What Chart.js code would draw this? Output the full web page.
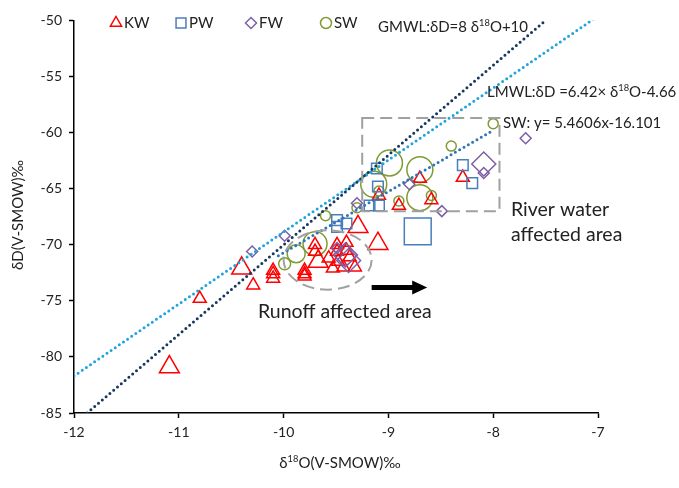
<!DOCTYPE html>
<html>
<head>
<meta charset="utf-8">
<script src="https://cdn.jsdelivr.net/npm/chart.js@4.4.1/dist/chart.umd.min.js"></script>
<style>
  html, body { margin: 0; padding: 0; background: #fff; }
  #wrap { width: 679px; height: 488px; }
</style>
</head>
<body>
<div id="wrap"><canvas id="grafica" width="679" height="488"></canvas></div>
<script>
// δ18O (x) y δD (y) por tipo de agua
const kwX = [-11.09, -10.80, -10.40, -10.29, -10.10, -10.10, -10.10, -9.80, -9.80, -9.80,
             -9.70, -9.70, -9.67, -9.57, -9.53, -9.49, -9.49, -9.48, -9.43, -9.40,
             -9.40, -9.37, -9.32, -9.29, -9.10, -9.09, -8.90, -8.70, -8.59, -8.29];
const kwY = [-80.9, -74.8, -72.1, -73.6, -72.3, -72.6, -73.0, -72.3, -72.6, -72.8,
             -70.0, -70.6, -71.5, -71.2, -72.1, -70.0, -70.6, -71.5, -72.0, -69.8,
             -70.5, -71.1, -72.0, -68.4, -69.9, -65.6, -66.5, -64.1, -66.0, -64.0];
const kwGrandes = [0, 2, 12, 23, 24];

const pwX = [-9.49, -9.40, -9.49, -9.18, -9.10, -9.09, -9.11, -8.29, -8.20, -8.72];
const pwY = [-67.8, -68.1, -68.4, -66.5, -64.8, -66.5, -63.2, -62.9, -64.5, -68.8];
const pwGrandes = [9];

const fwX = [-10.30, -9.99, -9.49, -9.41, -9.38, -9.30, -8.80, -8.49, -8.09, -8.09, -7.69];
const fwY = [-70.6, -69.2, -70.3, -70.9, -71.4, -66.3, -64.6, -67.0, -62.8, -63.6, -60.5];
const fwGrandes = [3, 4, 8];

const swX = [-9.99, -9.88, -9.70, -9.60, -9.30, -9.14, -9.09, -8.99, -8.90, -8.70, -8.70, -8.59, -8.40, -8.00];
const swY = [-71.7, -70.8, -69.9, -67.4, -66.7, -64.6, -65.2, -62.7, -66.1, -63.3, -65.8, -65.6, -61.2, -59.2];
const swRadio = [6, 9, 12, 5, 5, 13, 5, 13, 5, 13, 13, 5, 5, 5];

// rectas: pendiente, ordenada, rango de x
const gmwl = { m: 8, b: 10, x: [-11.875, -7.5] };
const lmwl = { m: 6.42, b: -4.66, x: [-12, -7] };
const swReg = { m: 5.4606, b: -16.101, x: [-10.05, -8.0] };

const xTicks = [-12, -11, -10, -9, -8, -7];
const yTicks = [-85, -80, -75, -70, -65, -60, -55, -50];

const FUENTE = 'Lato, "Open Sans", sans-serif';
const C_KW = '#FF0000', C_PW = '#4A7EBB', C_FW = '#7E5FA6', C_SW = '#7F9B34';

function puntos(xs, ys) {
  return xs.map((x, i) => ({ x: x, y: ys[i] }));
}

function recta(r) {
  return r.x.map(x => ({ x: x, y: r.m * x + r.b }));
}

function serieRecta(r, color) {
  return {
    data: recta(r),
    showLine: true,
    borderColor: color,
    borderWidth: 3,
    borderDash: [0, 5],
    borderCapStyle: 'round',
    pointRadius: 0,
    fill: false
  };
}

function serieMarcas(etiqueta, xs, ys, estilo, color, radio) {
  return {
    label: etiqueta,
    data: puntos(xs, ys),
    pointStyle: estilo,
    borderColor: color,
    backgroundColor: 'rgba(0,0,0,0)',
    pointBorderWidth: 1.5,
    pointRadius: radio,
    pointHoverRadius: radio
  };
}

// texto con superíndices: [texto, esSup]
function textoRuns(ctx, runs, x, y, size, align) {
  const supSize = size * 0.62;
  let total = 0;
  runs.forEach(r => {
    ctx.font = (r[1] ? supSize : size) + 'px ' + FUENTE;
    total += ctx.measureText(r[0]).width;
  });
  let cx = align === 'right' ? x - total : (align === 'center' ? x - total / 2 : x);
  ctx.textAlign = 'left';
  ctx.textBaseline = 'alphabetic';
  runs.forEach(r => {
    ctx.font = (r[1] ? supSize : size) + 'px ' + FUENTE;
    ctx.fillText(r[0], cx, r[1] ? y - size * 0.4 : y);
    cx += ctx.measureText(r[0]).width;
  });
}

function marca(ctx, estilo, x, y, r, color) {
  ctx.save();
  ctx.strokeStyle = color;
  ctx.lineWidth = 1.5;
  ctx.beginPath();
  if (estilo === 'triangle') {
    ctx.moveTo(x, y - r);
    ctx.lineTo(x + r * 0.866, y + r * 0.5);
    ctx.lineTo(x - r * 0.866, y + r * 0.5);
    ctx.closePath();
  } else if (estilo === 'rect') {
    ctx.rect(x - r * 0.707, y - r * 0.707, r * 1.414, r * 1.414);
  } else if (estilo === 'rectRot') {
    ctx.moveTo(x - r, y); ctx.lineTo(x, y - r); ctx.lineTo(x + r, y); ctx.lineTo(x, y + r);
    ctx.closePath();
  } else {
    ctx.arc(x, y, r, 0, Math.PI * 2);
  }
  ctx.stroke();
  ctx.restore();
}

const anotaciones = {
  id: 'anotaciones',
  afterDatasetsDraw(chart) {
    const ctx = chart.ctx;
    const sx = chart.scales.x, sy = chart.scales.y;

    ctx.save();
    // zona de agua de río
    ctx.strokeStyle = '#A0A0A0';
    ctx.lineWidth = 2;
    ctx.setLineDash([12, 6]);
    const bx1 = sx.getPixelForValue(-9.25), bx2 = sx.getPixelForValue(-7.94);
    const by1 = sy.getPixelForValue(-58.7), by2 = sy.getPixelForValue(-67.0);
    ctx.strokeRect(bx1, by1, bx2 - bx1, by2 - by1);

    // zona de escorrentía
    const ex1 = sx.getPixelForValue(-10.0), ex2 = sx.getPixelForValue(-9.16);
    const ey1 = sy.getPixelForValue(-68.7), ey2 = sy.getPixelForValue(-74.0);
    ctx.beginPath();
    ctx.ellipse((ex1 + ex2) / 2, (ey1 + ey2) / 2, (ex2 - ex1) / 2, (ey2 - ey1) / 2, 0, 0, Math.PI * 2);
    ctx.stroke();
    ctx.setLineDash([]);

    // flecha
    const ax1 = sx.getPixelForValue(-9.16), ax2 = sx.getPixelForValue(-8.63);
    const ay = sy.getPixelForValue(-73.8);
    ctx.strokeStyle = '#000';
    ctx.fillStyle = '#000';
    ctx.lineWidth = 5;
    ctx.beginPath();
    ctx.moveTo(ax1, ay);
    ctx.lineTo(ax2 - 12, ay);
    ctx.stroke();
    ctx.beginPath();
    ctx.moveTo(ax2, ay);
    ctx.lineTo(ax2 - 15, ay - 7);
    ctx.lineTo(ax2 - 15, ay + 7);
    ctx.closePath();
    ctx.fill();
    ctx.restore();
  },
  afterDraw(chart) {
    const ctx = chart.ctx;
    ctx.save();
    ctx.fillStyle = '#222';

    // leyenda
    const ley = [
      ['triangle', C_KW, 'KW', 116, 6.5],
      ['rect', C_PW, 'PW', 181, 7],
      ['rectRot', C_FW, 'FW', 251, 5.5],
      ['circle', C_SW, 'SW', 326, 5.5]
    ];
    ley.forEach(l => {
      marca(ctx, l[0], l[3], 23, l[4], l[1]);
      textoRuns(ctx, [[l[2], false]], l[3] + 8, 28, 15, 'left');
    });

    // ecuaciones
    textoRuns(ctx, [['GMWL:δD=8 δ', false], ['18', true], ['O+10', false]], 528, 32, 15, 'right');
    textoRuns(ctx, [['LMWL:δD =6.42× δ', false], ['18', true], ['O-4.66', false]], 487, 97, 15, 'left');
    textoRuns(ctx, [['SW: y= 5.4606x-16.101', false]], 503, 128, 15, 'left');

    // zonas
    textoRuns(ctx, [['River water', false]], 511, 216, 19.5, 'left');
    textoRuns(ctx, [['affected area', false]], 511, 241, 19.5, 'left');
    textoRuns(ctx, [['Runoff affected area', false]], 258, 318, 19.5, 'left');

    // títulos de ejes
    textoRuns(ctx, [['δ', false], ['18', true], ['O(V-SMOW)‰', false]], 340, 468, 15, 'center');
    ctx.translate(23, 215);
    ctx.rotate(-Math.PI / 2);
    textoRuns(ctx, [['δD(V-SMOW)‰', false]], 0, 0, 15, 'center');
    ctx.restore();
  }
};

const ctx = document.getElementById('grafica').getContext('2d');
const grafica = new Chart(ctx, {
  type: 'scatter',
  data: {
    datasets: [
      serieRecta(swReg, '#2E75B6'),
      serieRecta(gmwl, '#17375E'),
      serieRecta(lmwl, '#22A3DA'),
      serieMarcas('FW', fwX, fwY, 'rectRot', C_FW, c => fwGrandes.includes(c.dataIndex) ? 12 : 5.5),
      serieMarcas('PW', pwX, pwY, 'rect', C_PW, c => pwGrandes.includes(c.dataIndex) ? 19 : 7.5),
      serieMarcas('KW', kwX, kwY, 'triangle', C_KW, c => kwGrandes.includes(c.dataIndex) ? 11.5 : 7.5),
      serieMarcas('SW', swX, swY, 'circle', C_SW, c => swRadio[c.dataIndex])
    ]
  },
  options: {
    responsive: false,
    animation: false,
    layout: { padding: { top: 16, right: 81, left: 0, bottom: 0 } },
    plugins: {
      legend: { display: false },
      tooltip: { enabled: false }
    },
    scales: {
      x: {
        type: 'linear',
        min: -12,
        max: -7,
        afterFit: s => { s.height = 75; },
        afterBuildTicks: s => { s.ticks = xTicks.map(v => ({ value: v })); },
        ticks: { color: '#222', font: { family: FUENTE, size: 14 }, padding: 6 },
        grid: { drawOnChartArea: false, drawTicks: true, tickLength: 5, color: '#000', tickWidth: 1.5 },
        border: { color: '#000', width: 1.5 }
      },
      y: {
        type: 'linear',
        min: -85,
        max: -50,
        afterFit: s => { s.width = 74; },
        afterBuildTicks: s => { s.ticks = yTicks.map(v => ({ value: v })); },
        ticks: { color: '#222', font: { family: FUENTE, size: 14 }, padding: 7 },
        grid: { drawOnChartArea: false, drawTicks: true, tickLength: 5, color: '#000', tickWidth: 1.5 },
        border: { color: '#000', width: 1.5 }
      }
    }
  },
  plugins: [anotaciones]
});
</script>
</body>
</html>
